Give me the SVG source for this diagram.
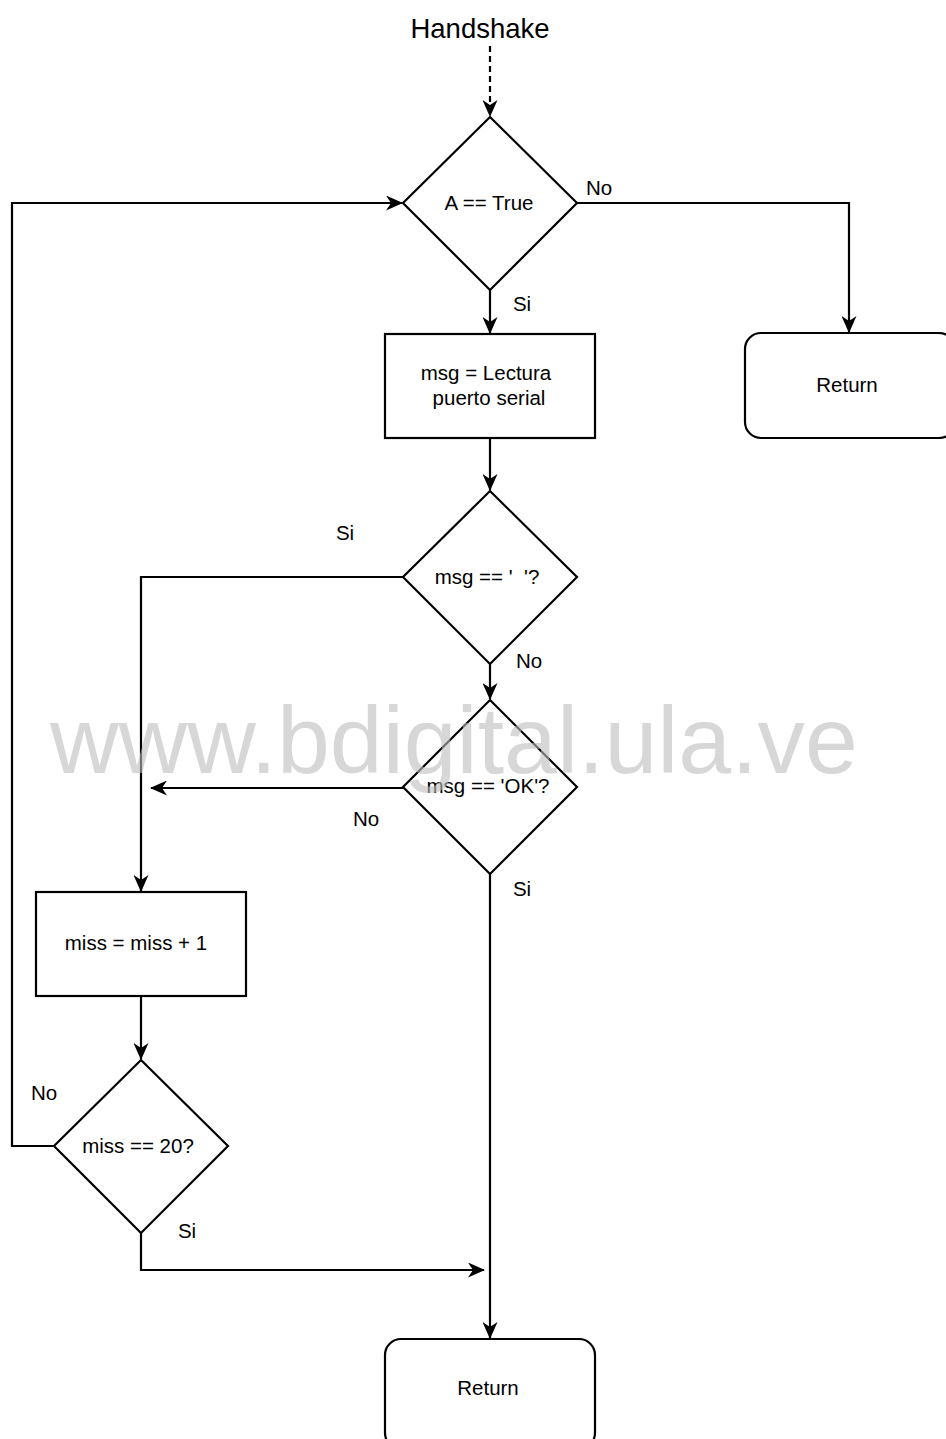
<svg xmlns="http://www.w3.org/2000/svg" width="946" height="1439" viewBox="0 0 946 1439">
  <style>
    .shape { fill: #ffffff; stroke: #000000; stroke-width: 2.2; }
    .edge { fill: none; stroke: #000000; stroke-width: 2.2; }
    .dashed { stroke-dasharray: 6 4; }
    text { font-family: "Liberation Sans", Arial, sans-serif; fill: #000000; }
    .node-text { font-size: 20.5px; text-anchor: middle; }
    .label { font-size: 20.5px; text-anchor: middle; }
    .title { font-size: 27.5px; text-anchor: middle; }
    .watermark { font-size: 95px; fill: #bdbdbd; fill-opacity: 0.6; }
  </style>
  <defs>
    <marker id="arrow" viewBox="0 0 17 15" refX="16" refY="7.5" markerWidth="17" markerHeight="15" markerUnits="userSpaceOnUse" orient="auto">
      <path d="M0,0 L17,7.5 L0,15 L5,7.5 Z" fill="#000000"/>
    </marker>
  </defs>

  <rect width="946" height="1439" fill="#ffffff"/>

  <text class="title" x="480" y="38">Handshake</text>

  <g id="connectors">
    <path class="edge dashed" d="M490,46 L490,116" marker-end="url(#arrow)"/>
    <path class="edge" d="M577,203 L849,203 L849,332" marker-end="url(#arrow)"/>
    <path class="edge" d="M490,290 L490,333" marker-end="url(#arrow)"/>
    <path class="edge" d="M490,438 L490,490" marker-end="url(#arrow)"/>
    <path class="edge" d="M490,664 L490,699" marker-end="url(#arrow)"/>
    <path class="edge" d="M403,577 L141,577 L141,891" marker-end="url(#arrow)"/>
    <path class="edge" d="M403,788 L151,788" marker-end="url(#arrow)"/>
    <path class="edge" d="M141,996 L141,1059" marker-end="url(#arrow)"/>
    <path class="edge" d="M54,1146 L12,1146 L12,203 L402,203" marker-end="url(#arrow)"/>
    <path class="edge" d="M141,1233 L141,1270 L484,1270" marker-end="url(#arrow)"/>
    <path class="edge" d="M490,874 L490,1338" marker-end="url(#arrow)"/>
  </g>

  <g id="n-check-a">
    <polygon class="shape" points="490,117 577,203 490,290 403,203"/>
    <text class="node-text" x="489" y="210">A == True</text>
  </g>

  <g id="n-return-right">
    <rect class="shape" x="745" y="333" width="210" height="105" rx="16" ry="16"/>
    <text class="node-text" x="847" y="392">Return</text>
  </g>

  <g id="n-read">
    <rect class="shape" x="385" y="334" width="210" height="104"/>
    <text class="node-text" x="486" y="380">msg = Lectura</text>
    <text class="node-text" x="489" y="405">puerto serial</text>
  </g>

  <g id="n-check-empty">
    <polygon class="shape" points="490,491 577,577 490,664 403,577"/>
    <text class="node-text" x="487" y="584" xml:space="preserve">msg == '  '?</text>
  </g>

  <g id="n-check-ok">
    <polygon class="shape" points="490,700 577,787 490,874 403,787"/>
    <text class="node-text" x="488" y="793">msg == 'OK'?</text>
  </g>

  <g id="n-miss-inc">
    <rect class="shape" x="36" y="892" width="210" height="104"/>
    <text class="node-text" x="136" y="950">miss = miss + 1</text>
  </g>

  <g id="n-check-miss">
    <polygon class="shape" points="141,1060 228,1146 141,1233 54,1146"/>
    <text class="node-text" x="138" y="1153">miss == 20?</text>
  </g>

  <g id="n-return-bottom">
    <rect class="shape" x="385" y="1339" width="210" height="110" rx="16" ry="16"/>
    <text class="node-text" x="488" y="1395">Return</text>
  </g>

  <g id="labels">
    <text class="label" x="599" y="195">No</text>
    <text class="label" x="522" y="311">Si</text>
    <text class="label" x="345" y="540">Si</text>
    <text class="label" x="529" y="668">No</text>
    <text class="label" x="366" y="826">No</text>
    <text class="label" x="522" y="896">Si</text>
    <text class="label" x="44" y="1100">No</text>
    <text class="label" x="187" y="1238">Si</text>
  </g>

  <text class="watermark" x="50" y="773">www.bdigital.ula.ve</text>
</svg>
